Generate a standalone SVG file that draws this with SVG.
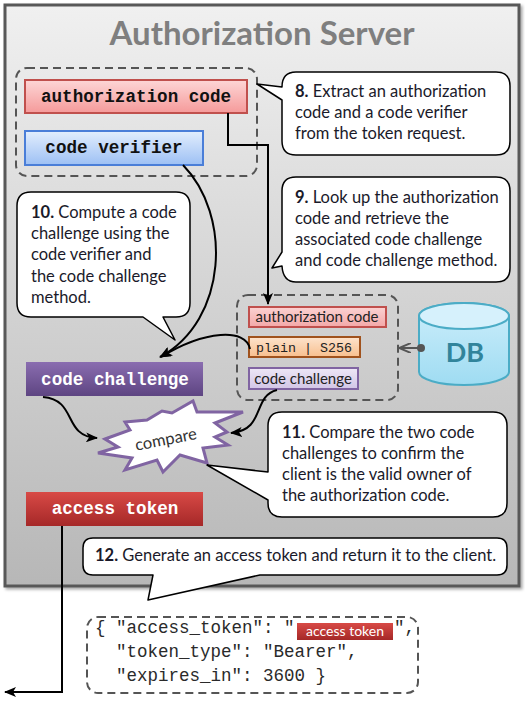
<svg xmlns="http://www.w3.org/2000/svg" width="525" height="701" viewBox="0 0 525 701">
<defs>
<linearGradient id="gServer" x1="0" y1="0" x2="0" y2="1"><stop offset="0" stop-color="#f0f0f0"/><stop offset="1" stop-color="#b7b7b7"/></linearGradient>
<linearGradient id="gPink" x1="0" y1="0" x2="0" y2="1"><stop offset="0" stop-color="#fdd6d6"/><stop offset="1" stop-color="#f59a9a"/></linearGradient>
<linearGradient id="gBlue" x1="0" y1="0" x2="0" y2="1"><stop offset="0" stop-color="#e3eefd"/><stop offset="1" stop-color="#9dc0f4"/></linearGradient>
<linearGradient id="gPurple" x1="0" y1="0" x2="0" y2="1"><stop offset="0" stop-color="#8a6db0"/><stop offset="1" stop-color="#5e4582"/></linearGradient>
<linearGradient id="gRed" x1="0" y1="0" x2="0" y2="1"><stop offset="0" stop-color="#d84a46"/><stop offset="1" stop-color="#a52828"/></linearGradient>
<linearGradient id="gOrange" x1="0" y1="0" x2="0" y2="1"><stop offset="0" stop-color="#fde3cc"/><stop offset="1" stop-color="#f8bf8e"/></linearGradient>
<linearGradient id="gLav" x1="0" y1="0" x2="0" y2="1"><stop offset="0" stop-color="#ede7f6"/><stop offset="1" stop-color="#d2c5e6"/></linearGradient>
<linearGradient id="gSPink" x1="0" y1="0" x2="0" y2="1"><stop offset="0" stop-color="#fbd2d2"/><stop offset="1" stop-color="#f3a8a8"/></linearGradient>
<linearGradient id="gDB" x1="0" y1="0" x2="0" y2="1"><stop offset="0" stop-color="#cdeefb"/><stop offset="1" stop-color="#9fdcf2"/></linearGradient>
<marker id="arr" viewBox="0 0 12 10" refX="11" refY="5" markerWidth="12" markerHeight="10" markerUnits="userSpaceOnUse" orient="auto"><path d="M0,0 L12,5 L0,10 L3,5 Z" fill="#000"/></marker>
<marker id="arrGray" viewBox="0 0 12 10" refX="11" refY="5" markerWidth="12" markerHeight="10" markerUnits="userSpaceOnUse" orient="auto"><path d="M0,0 L12,5 L0,10" fill="none" stroke="#555" stroke-width="2"/></marker>
<filter id="sh" x="-5%" y="-5%" width="110%" height="110%"><feDropShadow dx="2" dy="2" stdDeviation="1.5" flood-color="#000" flood-opacity="0.35"/></filter>
</defs>
<style>
.callout{fill:#fff;stroke:#000;stroke-width:1.5;stroke-linejoin:round}
.ct{font-family:Lato,"Open Sans",sans-serif;font-size:16.5px;fill:#1a1a2a}
.ct tspan.b{font-weight:bold}
.dash{fill:none;stroke:#555;stroke-width:2;stroke-dasharray:8,5}
.mono{font-family:"Liberation Mono","Courier New",monospace;font-weight:bold;font-size:17.6px;text-anchor:middle}
.small{font-family:Lato,"Open Sans",sans-serif;font-size:15px;fill:#222;text-anchor:middle}
.conn{fill:none;stroke:#000;stroke-width:2}
.json{font-family:"Liberation Mono","Courier New",monospace;font-size:17.5px;fill:#2a2a2a;white-space:pre}
</style>

<g id="server">
<rect x="5" y="5" width="514" height="581" fill="url(#gServer)" stroke="#595959" stroke-width="3" filter="url(#sh)"/>
<text x="262" y="45" text-anchor="middle" font-family="Lato,'Open Sans',sans-serif" font-weight="bold" font-size="33" fill="#7f7f7f">Authorization Server</text>
</g>

<g id="group-request">
<rect class="dash" x="16" y="68" width="241" height="108" rx="11"/>
</g>

<g id="node-authorization-code">
<rect x="25" y="80" width="222" height="33" fill="url(#gPink)" stroke="#c0504d" stroke-width="2"/>
<text class="mono" x="136" y="102" fill="#111">authorization code</text>
</g>

<g id="node-code-verifier">
<rect x="25" y="131" width="178" height="34" fill="url(#gBlue)" stroke="#4a7ed8" stroke-width="2"/>
<text class="mono" x="114" y="153" fill="#111">code verifier</text>
</g>

<g id="callout-8">
<path class="callout" d="M282,100 L257,84 L282,87 Q282,72 296,72 H496 Q510,72 510,86 V141 Q510,155 496,155 H296 Q282,155 282,141 Z"/>
<text class="ct" x="295" y="97"><tspan class="b">8.</tspan> Extract an authorization</text>
<text class="ct" x="295" y="118">code and a code verifier</text>
<text class="ct" x="295" y="139">from the token request.</text>
</g>

<g id="callout-9">
<path class="callout" d="M296,177 H496 Q510,177 510,191 V268 Q510,282 496,282 H296 Q283,282 282,266 L272,268 L282,252 V191 Q282,177 296,177 Z"/>
<text class="ct" x="295" y="203"><tspan class="b">9.</tspan> Look up the authorization</text>
<text class="ct" x="295" y="224">code and retrieve the</text>
<text class="ct" x="295" y="245">associated code challenge</text>
<text class="ct" x="295" y="266">and code challenge method.</text>
</g>

<g id="callout-10">
<path class="callout" d="M31,192 H176 Q190,192 190,206 V303 Q190,317 176,317 H163 L175,340 L143,317 H31 Q17,317 17,303 V206 Q17,192 31,192 Z"/>
<text class="ct" x="31" y="218"><tspan class="b">10.</tspan> Compute a code</text>
<text class="ct" x="31" y="239">challenge using the</text>
<text class="ct" x="31" y="260">code verifier and</text>
<text class="ct" x="31" y="282">the code challenge</text>
<text class="ct" x="31" y="303">method.</text>
</g>

<g id="node-code-challenge">
<rect x="26" y="362" width="177" height="34" fill="url(#gPurple)"/>
<text class="mono" x="115" y="385" fill="#fff">code challenge</text>
</g>

<g id="group-stored">
<rect class="dash" x="237" y="295" width="161" height="105" rx="11"/>
<rect x="249" y="307" width="137" height="20" fill="url(#gSPink)" stroke="#c0504d" stroke-width="2"/>
<text class="small" x="317" y="322">authorization  code</text>
<rect x="249" y="337" width="111" height="20" fill="url(#gOrange)" stroke="#a0521d" stroke-width="2"/>
<text x="304" y="352" text-anchor="middle" font-family="'Liberation Mono','Courier New',monospace" font-size="13.3" fill="#222">plain | S256</text>
<rect x="249" y="368" width="109" height="21" fill="url(#gLav)" stroke="#8064a2" stroke-width="2"/>
<text class="small" x="303" y="384">code challenge</text>
</g>

<g id="node-db">
<path d="M419,316 V372 A45,13 0 0 0 509,372 V316 A45,13 0 0 0 419,316 Z" fill="url(#gDB)" stroke="#4bacc6" stroke-width="2"/>
<ellipse cx="464" cy="316" rx="45" ry="13" fill="#d6f1fc" stroke="#4bacc6" stroke-width="2"/>
<text x="465" y="362" text-anchor="middle" font-family="Lato,'Open Sans',sans-serif" font-weight="bold" font-size="27" fill="#31849b">DB</text>
</g>

<g id="node-compare">
<polygon points="105,439 130,430 125,422 147,420 162,411 172,413 193,401 197,412 243,412 215,423 227,432 215,437 228,445 203,448 207,463 180,455 163,472 157,460 125,470 132,458 98,453 118,447" fill="#fff" stroke="#8064a2" stroke-width="3" stroke-linejoin="miter"/>
<text x="166" y="445" text-anchor="middle" transform="rotate(-11 166 440)" font-family="Lato,'Open Sans',sans-serif" font-size="16.5" fill="#333">compare</text>
</g>

<g id="callout-11">
<path class="callout" d="M282,412 H493 Q507,412 507,426 V503 Q507,517 493,517 H282 Q268,517 268,503 V500 L207,465 L268,472 V426 Q268,412 282,412 Z"/>
<text class="ct" x="282" y="438"><tspan class="b">11.</tspan> Compare the two code</text>
<text class="ct" x="282" y="459">challenges to confirm the</text>
<text class="ct" x="282" y="480">client is the valid owner of</text>
<text class="ct" x="282" y="501">the authorization code.</text>
</g>

<g id="node-access-token">
<rect x="26" y="492" width="177" height="34" fill="url(#gRed)"/>
<text class="mono" x="115" y="514" fill="#fff">access token</text>
</g>

<g id="callout-12">
<path class="callout" d="M93,538 H497 Q507,538 507,548 V565 Q507,575 497,575 H260 L148,600 L153,575 H93 Q83,575 83,565 V548 Q83,538 93,538 Z"/>
<text class="ct" x="95" y="561"><tspan class="b">12.</tspan> Generate an access token and return it to the client.</text>
</g>

<g id="node-json">
<rect class="dash" x="87" y="617" width="331" height="76" rx="11"/>
<text class="json" x="95" y="633">{ "access_token": "</text>
<rect x="297" y="623" width="96" height="17" fill="url(#gRed)"/>
<text x="345" y="636" text-anchor="middle" font-family="Lato,'Open Sans',sans-serif" font-size="14" fill="#fff">access token</text>
<text class="json" x="394" y="633">",</text>
<text class="json" x="95" y="657">  "token_type": "Bearer",</text>
<text class="json" x="95" y="681">  "expires_in": 3600 }</text>
</g>

<g id="connectors">
<path class="conn" d="M228,113 V145 H268 V304" marker-end="url(#arr)"/>
<path class="conn" d="M183,165 C232,215 228,320 160,357" marker-end="url(#arr)"/>
<path class="conn" d="M250,349 C246,328 205,330 161,357" marker-end="url(#arr)"/>
<path class="conn" d="M43,397 C78,400 62,436 97,438" marker-end="url(#arr)"/>
<path class="conn" d="M277,390 C252,396 266,430 231,433" marker-end="url(#arr)"/>
<path d="M420,348 H400" fill="none" stroke="#555" stroke-width="2" marker-end="url(#arrGray)"/>
<circle cx="421" cy="348" r="4" fill="#555"/>
<path class="conn" d="M62,526 V692 H5" marker-end="url(#arr)"/>
</g>
</svg>
